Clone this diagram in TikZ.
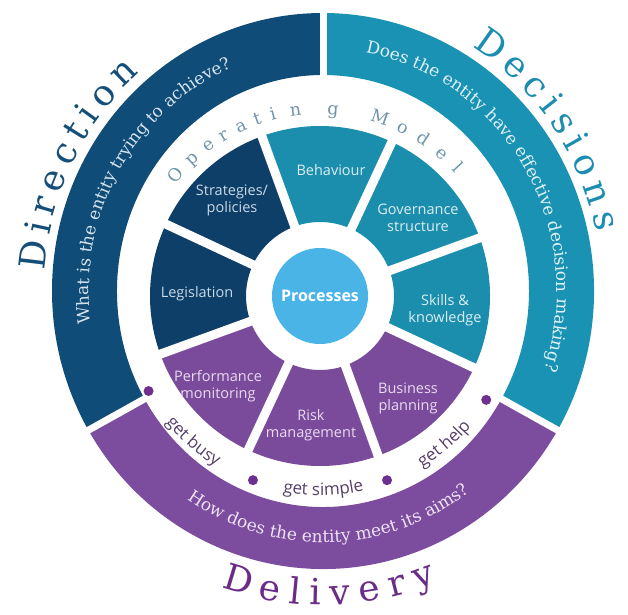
\documentclass[tikz,border=0pt]{standalone}
\usepackage{fontspec}
\usetikzlibrary{calc,decorations.text}
\newfontfamily\slabfont{DejaVu Serif}
\newfontfamily\segfont{Open Sans}
\definecolor{navyring}{HTML}{0F4C77}
\definecolor{navyseg}{HTML}{0E3F68}
\definecolor{tealring}{HTML}{1A92B3}
\definecolor{tealseg}{HTML}{1B8DAD}
\definecolor{purring}{HTML}{7C4C9E}
\definecolor{purseg}{HTML}{7B4B9B}
\definecolor{procblue}{HTML}{4BB4E6}
\definecolor{dotpur}{HTML}{6E2F8E}
\definecolor{getc}{HTML}{553F66}
\definecolor{dirc}{HTML}{154F79}
\definecolor{decc}{HTML}{1B8DB0}
\definecolor{delc}{HTML}{6A2C86}
\definecolor{opc}{HTML}{6F95AC}
\definecolor{qdirc}{HTML}{D5E3EE}
\definecolor{qdecc}{HTML}{E0F1F6}
\definecolor{qdelc}{HTML}{EEE2F3}
\definecolor{labnavy}{HTML}{C9D9E6}
\definecolor{labteal}{HTML}{DCEEF4}
\definecolor{labpur}{HTML}{E9DAF0}
\newcommand\qsize{\slabfont\fontsize{17}{20}\selectfont}
\newcommand\getsize{\segfont\fontsize{17}{20}\selectfont}
\newcommand\ringsector[3]{\fill[#1] ($(CO)+(#2:271 and 278)$) arc[start angle=#2, end angle=#3, x radius=271, y radius=278] -- ($(CO)+(#3:206 and 216)$) arc[start angle=#3, end angle=#2, x radius=206, y radius=216] -- cycle;}
\newcommand\wheelsector[3]{\fill[#1] ($(CI)+(#2:170)$) arc[start angle=#2, end angle=#3, radius=170] -- ($(CI)+(#3:74)$) arc[start angle=#3, end angle=#2, radius=74] -- cycle;}
\tikzset{
  seglab/.style={font=\segfont\fontsize{14.5}{17}\selectfont, align=center, inner sep=0pt},
  biglet/.style={font=\slabfont\fontsize{36}{40}\selectfont, anchor=base, inner sep=0pt, text depth=0pt},
  oplet/.style={font=\slabfont\fontsize{17.5}{19}\selectfont, text=opc, anchor=base, inner sep=0pt},
  gapline/.style={white, line width=#1},
}
\begin{document}
\begin{tikzpicture}[x=1pt,y=1pt]
\useasboundingbox (0,0) rectangle (628,614);
\coordinate (CO) at (323,323);
\coordinate (CI) at (320,318);
% outer ring
\ringsector{navyring}{90}{210}
\ringsector{purring}{210}{330}
\ringsector{tealring}{-30}{90}
\foreach \a in {90,210,330}
  \draw[gapline=7] ($(CO)+(\a:195 and 205)$) -- ($(CO)+(\a:285 and 292)$);
% wheel
\wheelsector{tealseg}{-25}{20}
\wheelsector{tealseg}{20}{65}
\wheelsector{tealseg}{65}{110}
\wheelsector{navyseg}{110}{155}
\wheelsector{navyseg}{155}{200}
\wheelsector{purseg}{200}{245}
\wheelsector{purseg}{245}{290}
\wheelsector{purseg}{290}{335}
\foreach \a in {20,65,...,335}
  \draw[gapline=9] (CI) -- ($(CI)+(\a:180)$);
\fill[procblue] (CI) circle[radius=48];
\node[font=\segfont\bfseries\fontsize{16}{19}\selectfont, text=white] (proc) at (CI) {Processes};
% segment labels
\node[seglab, text=labnavy] (strat) at (232,414) {Strategies/\\policies};
\node[seglab, text=labnavy] (legis) at (197,320) {Legislation};
\node[seglab, text=labteal] (behav) at (331,444) {Behaviour};
\node[seglab, text=labteal] (gov) at (418,396) {Governance\\structure};
\node[seglab, text=labteal] (skills) at (445,304) {Skills \&\\knowledge};
\node[seglab, text=labpur] (perf) at (218,228) {Performance\\monitoring};
\node[seglab, text=labpur] (risk) at (311,189) {Risk\\management};
\node[seglab, text=labpur] (bus) at (408,216) {Business\\planning};
% Operating Model
\foreach \ang/\ch [count=\i] in {140/O,133/p,126.5/e,121/r,115/a,109.5/t,104.5/i,97.5/n,86/g,71.4/M,63.8/o,56.6/d,49.6/e,43/l}
  \node[oplet, rotate=\ang-90] (op\i) at ($(CI)+(\ang:182)$) {\ch};
% dots
\foreach \ang [count=\i] in {209,250,290,328}
  \fill[dotpur] ($(CI)+(\ang:196)$) circle[radius=5];
% get texts
\path[decorate, decoration={text along path, text align=center, text={|\getsize\color{getc}|get busy}}]
  ($(CI)+(207:199.5)$) arc[start angle=207, end angle=251, radius=199.5];
\path[decorate, decoration={text along path, text align=center, text={|\getsize\color{getc}|get simple}}]
  ($(CI)+(249:199.5)$) arc[start angle=249, end angle=293, radius=199.5];
\path[decorate, decoration={text along path, text align=center, text={|\getsize\color{getc}|get help}}]
  ($(CI)+(288:199.5)$) arc[start angle=288, end angle=332, radius=199.5];
% ring questions
\path[decorate, decoration={text along path, text align=center, text={|\qsize\color{qdirc}|What is the entity trying to achieve?}}]
  ($(CO)+(215:234 and 242.5)$) arc[start angle=215, end angle=85, x radius=234, y radius=242.5];
\path[decorate, decoration={text along path, text align=center, text={|\qsize\color{qdecc}|Does the entity have effective decision making?}}]
  ($(CO)+(95:234 and 242.5)$) arc[start angle=95, end angle=-34, x radius=234, y radius=242.5];
\path[decorate, decoration={text along path, text align=center, text={|\qsize\color{qdelc}|How does the entity meet its aims?}}]
  ($(CO)+(215:243 and 251.5)$) arc[start angle=215, end angle=328, x radius=243, y radius=251.5];
% big labels
\foreach \ang/\ch [count=\i] in {173.15/D,167.87/i,163.6/r,158.39/e,152.89/c,148.06/t,144.06/i,139.37/o,133.56/n}
  \node[biglet, text=dirc, rotate=\ang-90] (dir\i) at ($(CO)+(\ang:279 and 290)$) {\ch};
\foreach \ang/\ch [count=\i] in {54.6/D,48.37/e,42.87/c,38.32/i,33.94/s,29.56/i,24.87/o,19.06/n,13.56/s}
  \node[biglet, text=decc, rotate=\ang-90] (dec\i) at ($(CO)+(\ang:279 and 290)$) {\ch};
\foreach \ang/\ch [count=\i] in {253.2/D,259.7/e,264.6/l,268.5/i,273.3/v,279.1/e,284.5/r,289.9/y}
  \node[biglet, text=delc, rotate=\ang+90] (del\i) at ($(CO)+(\ang:305 and 314)$) {\ch};
\end{tikzpicture}
\end{document}
